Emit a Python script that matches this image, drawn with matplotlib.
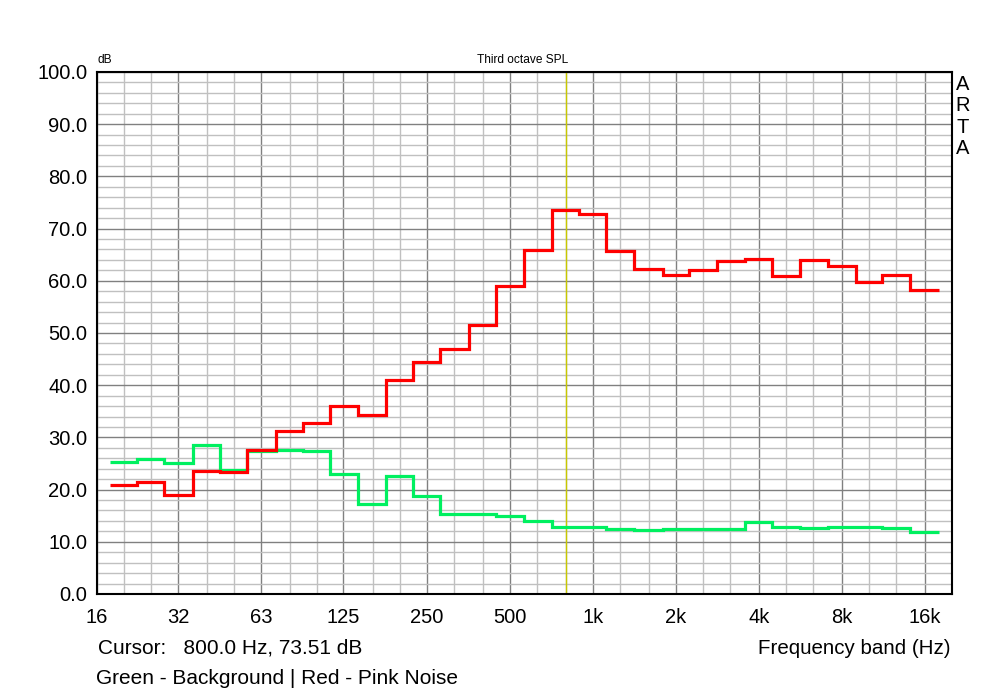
import numpy as np
import matplotlib.pyplot as plt

bands = [20, 25, 31.5, 40, 50, 63, 80, 100, 125, 160, 200, 250, 315, 400, 500,
         630, 800, 1000, 1250, 1600, 2000, 2500, 3150, 4000, 5000, 6300, 8000,
         10000, 12500, 16000]
pink_noise = [20.9, 21.4, 19.0, 23.6, 23.4, 27.6, 31.2, 32.8, 36.0, 34.2, 41.0,
              44.5, 47.0, 51.5, 59.0, 65.9, 73.5, 72.7, 65.8, 62.3, 61.1, 62.1,
              63.7, 64.2, 60.9, 63.9, 62.9, 59.8, 61.1, 58.3]
background = [25.3, 25.9, 25.0, 28.6, 23.8, 27.3, 27.6, 27.3, 22.9, 17.3, 22.6,
              18.8, 15.3, 15.4, 15.0, 14.0, 12.9, 12.9, 12.45, 12.26, 12.45, 12.45,
              12.45, 13.8, 12.9, 12.6, 12.9, 12.9, 12.6, 11.9]
major_ticks = [16, 31.5, 63, 125, 250, 500, 1000, 2000, 4000, 8000, 16000]
major_labels = ["16", "32", "63", "125", "250", "500", "1k", "2k", "4k", "8k", "16k"]
minor_ticks = [20, 25, 40, 50, 80, 100, 160, 200, 315, 400, 630, 800, 1250, 1600,
               2500, 3150, 5000, 6300, 10000, 12500]
cursor_freq = 800

plt.rcParams['font.family'] = ['Liberation Sans', 'DejaVu Sans']

# band edges (third octave, geometric means)
c = np.array(bands, dtype=float)
edges = np.concatenate([[c[0] * 2 ** (-1 / 6)], np.sqrt(c[:-1] * c[1:]), [c[-1] * 2 ** (1 / 6)]])

fig = plt.figure(figsize=(10, 6.94), dpi=100)
ax = fig.add_axes([0.097, 0.1441, 0.855, 0.7522])
ax.set_xscale('log')
ax.set_xlim(16, 20000)
ax.set_ylim(0, 100)

ax.set_xticks(major_ticks)
ax.set_xticklabels(major_labels)
ax.set_xticks(minor_ticks, minor=True)
ax.set_xticklabels([], minor=True)
ax.set_yticks(np.arange(0, 101, 10))
ax.set_yticklabels([f"{v:.1f}" for v in np.arange(0, 101, 10)])
ax.set_yticks(np.arange(0, 101, 2), minor=True)

ax.grid(True, which='minor', color='#c0c0c0', lw=1.0)
ax.grid(True, which='major', color='#808080', lw=1.0)
ax.set_axisbelow(True)
ax.tick_params(which='both', length=0)
ax.tick_params(axis='x', labelsize=14.5, pad=10)
ax.tick_params(axis='y', labelsize=14.5, pad=7)
for s in ax.spines.values():
    s.set_linewidth(1.5)

ax.axvline(cursor_freq, color='#c8c800', lw=1.0, zorder=2)
ax.stairs(background, edges, baseline=None, color='#00f060', lw=2.3, zorder=3)
ax.stairs(pink_noise, edges, baseline=None, color='#ff0000', lw=2.3, zorder=4)

fig.text(0.098, 1 - 66 / 694, "dB", fontsize=8.6, va='bottom')
fig.text(0.523, 1 - 66 / 694, "Third octave SPL", fontsize=8.6, va='bottom', ha='center')
for i, ch in enumerate("ARTA"):
    fig.text(0.963, 1 - (84.5 + 21.4 * i) / 694, ch, fontsize=14.5, ha='center', va='center')

fig.text(0.098, 1 - 648 / 694, "Cursor:   800.0 Hz, 73.51 dB", fontsize=15, va='center')
fig.text(0.096, 1 - 678 / 694, "Green - Background | Red - Pink Noise", fontsize=15, va='center')
fig.text(0.950, 1 - 648 / 694, "Frequency band (Hz)", fontsize=14.8, va='center', ha='right')

fig.savefig("out.png", dpi=100)
